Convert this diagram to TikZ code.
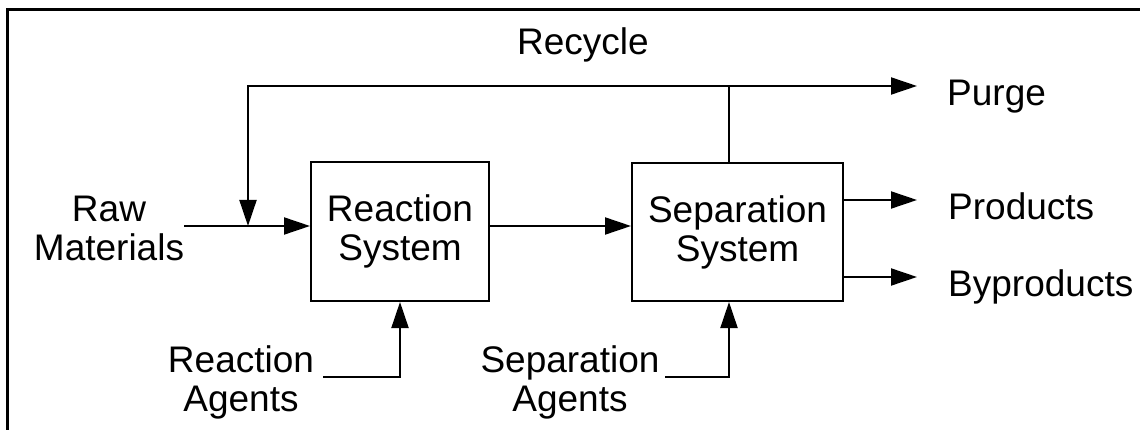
\documentclass[tikz,border=0pt]{standalone}
\usepackage{fontspec}
\setmainfont{Liberation Sans}
\usetikzlibrary{arrows.meta}
\begin{document}
\begin{tikzpicture}[x=1pt,y=-1pt,
  every node/.style={font=\fontsize{37}{39}\selectfont, inner sep=0pt},
  sysbox/.style={draw, line width=2pt, align=center},
  lbl/.style={align=center},
  conn/.style={line width=2pt},
  arr/.style={line width=2pt, -{Triangle[length=26pt,width=17pt]}}]
\useasboundingbox (0,0) rectangle (1140,430);
\draw[line width=3pt] (7,431) -- (7,10) -- (1141,10);
% boxes
\node[sysbox, minimum width=178pt, minimum height=139pt] (rs) at (400,231.5) {Reaction\\System};
\node[sysbox, minimum width=211pt, minimum height=138pt] (ss) at (737.5,232) {Separation\\System};
% labels
\node[lbl] (raw) at (109,228) {Raw\\Materials};
\node[lbl] (ragt) at (241,382) {Reaction\\Agents};
\node[lbl] (sagt) at (570,382) {Separation\\Agents};
\node[anchor=base] (rec) at (583,55) {Recycle};
\node[anchor=base west] (purge) at (947,106) {Purge};
\node[anchor=base west] (prod) at (948,220) {Products};
\node[anchor=base west] (byp) at (948,297) {Byproducts};
% coordinates
\coordinate (rawstart) at (184,226);
\coordinate (mix) at (248,226);
\coordinate (jn) at (729,86);
\coordinate (purgetip) at (917,86);
\coordinate (prodtip) at (917,200);
\coordinate (byptip) at (917,277);
\coordinate (ra) at (323,377);
\coordinate (sa) at (665,377);
% connectors
\draw[arr] (rawstart) -- (rawstart -| rs.west);
\draw[arr] (rs.east |- rawstart) -- (ss.west |- rawstart);
\draw[conn] (ss.north -| jn) -- (jn);
\draw[arr] (jn) -- (purgetip);
\draw[arr] (jn) -| (mix);
\draw[arr] (ss.east |- prodtip) -- (prodtip);
\draw[arr] (ss.east |- byptip) -- (byptip);
\draw[arr] (ra) -| (rs.south);
\draw[arr] (sa) -| (ss.south -| jn);
\end{tikzpicture}
\end{document}
